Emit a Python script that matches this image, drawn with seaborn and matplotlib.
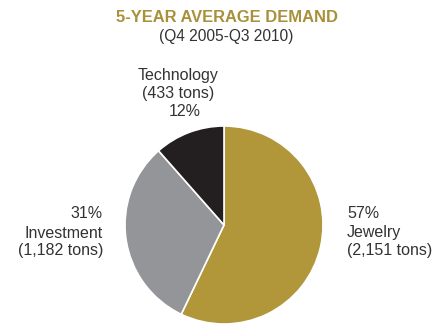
import matplotlib
matplotlib.use("Agg")
import matplotlib.pyplot as plt
import seaborn as sns

categories = ["Jewelry", "Investment", "Technology"]
tons = [2151, 1182, 433]
shares = ["57%", "31%", "12%"]
ton_labels = ["(2,151 tons)", "(1,182 tons)", "(433 tons)"]
colors = ["#B1963A", "#939598", "#231F20"]

sns.set_style("white")
plt.rcParams['font.family'] = ['Liberation Sans', 'DejaVu Sans']

W, H = 438, 325
fig = plt.figure(figsize=(W / 100, H / 100), dpi=100)

# pie placed by pixel position: centre (224, 225), radius 99
cx, cy, r = 224, 225, 99
ax = fig.add_axes([(cx - r) / W, (H - cy - r) / H, 2 * r / W, 2 * r / H])
ax.pie(tons, colors=colors, startangle=90, counterclock=False,
       wedgeprops=dict(edgecolor="white", linewidth=1.2))
ax.set_xlim(-1, 1)
ax.set_ylim(-1, 1)
ax.set_aspect("equal")
ax.axis("off")

txt = "#333333"

def put(x, y, s, ha="center", **kw):
    fig.text(x / W, 1 - y / H, s, ha=ha, va="center", color=kw.pop("color", txt),
             fontsize=kw.pop("fontsize", 11.5), **kw)

put(227, 18, "5-YEAR AVERAGE DEMAND", fontsize=11.9, fontweight="bold", color="#A8913A")
put(226, 37, "(Q4 2005-Q3 2010)", fontsize=11.2)

# Jewelry
put(347, 214, shares[0], ha="left")
put(347, 233, categories[0], ha="left")
put(347, 251, ton_labels[0], ha="left")

# Investment
put(103, 214, shares[1], ha="right")
put(103, 233, categories[1], ha="right")
put(103, 251, ton_labels[1], ha="right")

# Technology
put(178, 75, categories[2])
put(178, 93, ton_labels[2])
put(185, 111, shares[2])

fig.savefig("out.png", dpi=100)
